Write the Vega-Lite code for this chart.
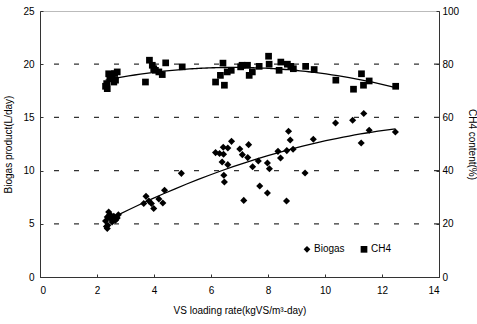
{
  "$schema": "https://vega.github.io/schema/vega-lite/v6.json",
  "autosize": "none",
  "width": 399,
  "height": 266,
  "padding": {"left": 40, "top": 11, "right": 38, "bottom": 47},
  "background": "white",
  "config": {
    "font": "Liberation Sans",
    "view": {"stroke": "#777", "strokeDash": [1, 1], "strokeWidth": 1},
    "axis": {
      "labelFont": "Liberation Sans",
      "titleFont": "Liberation Sans",
      "labelFontSize": 10,
      "titleFontSize": 10,
      "labelColor": "#000",
      "titleColor": "#000",
      "titleFontWeight": "normal",
      "domainColor": "#333",
      "tickColor": "#333",
      "tickSize": -3,
      "grid": false
    }
  },
  "datasets": {
    "gridlines": [
      {"level": 5}, {"level": 10}, {"level": 15}, {"level": 20}
    ],
    "biogas": [
      {"load": 2.30, "biogas": 5.26, "series": "Biogas"},
      {"load": 2.33, "biogas": 4.75, "series": "Biogas"},
      {"load": 2.36, "biogas": 4.55, "series": "Biogas"},
      {"load": 2.38, "biogas": 4.86, "series": "Biogas"},
      {"load": 2.36, "biogas": 5.64, "series": "Biogas"},
      {"load": 2.41, "biogas": 6.11, "series": "Biogas"},
      {"load": 2.45, "biogas": 5.90, "series": "Biogas"},
      {"load": 2.47, "biogas": 5.49, "series": "Biogas"},
      {"load": 2.53, "biogas": 5.17, "series": "Biogas"},
      {"load": 2.59, "biogas": 5.70, "series": "Biogas"},
      {"load": 2.65, "biogas": 5.33, "series": "Biogas"},
      {"load": 2.71, "biogas": 5.55, "series": "Biogas"},
      {"load": 2.75, "biogas": 5.85, "series": "Biogas"},
      {"load": 3.64, "biogas": 6.90, "series": "Biogas"},
      {"load": 3.72, "biogas": 7.58, "series": "Biogas"},
      {"load": 3.82, "biogas": 7.14, "series": "Biogas"},
      {"load": 3.91, "biogas": 6.90, "series": "Biogas"},
      {"load": 3.99, "biogas": 6.43, "series": "Biogas"},
      {"load": 4.17, "biogas": 7.33, "series": "Biogas"},
      {"load": 4.31, "biogas": 6.96, "series": "Biogas"},
      {"load": 4.37, "biogas": 8.15, "series": "Biogas"},
      {"load": 4.96, "biogas": 9.74, "series": "Biogas"},
      {"load": 6.16, "biogas": 11.69, "series": "Biogas"},
      {"load": 6.30, "biogas": 11.60, "series": "Biogas"},
      {"load": 6.39, "biogas": 10.81, "series": "Biogas"},
      {"load": 6.43, "biogas": 12.20, "series": "Biogas"},
      {"load": 6.44, "biogas": 11.53, "series": "Biogas"},
      {"load": 6.45, "biogas": 9.56, "series": "Biogas"},
      {"load": 6.47, "biogas": 8.93, "series": "Biogas"},
      {"load": 6.59, "biogas": 12.12, "series": "Biogas"},
      {"load": 6.59, "biogas": 10.56, "series": "Biogas"},
      {"load": 6.72, "biogas": 12.75, "series": "Biogas"},
      {"load": 7.01, "biogas": 12.03, "series": "Biogas"},
      {"load": 7.10, "biogas": 11.50, "series": "Biogas"},
      {"load": 7.15, "biogas": 7.20, "series": "Biogas"},
      {"load": 7.29, "biogas": 11.22, "series": "Biogas"},
      {"load": 7.32, "biogas": 12.44, "series": "Biogas"},
      {"load": 7.46, "biogas": 10.37, "series": "Biogas"},
      {"load": 7.66, "biogas": 10.90, "series": "Biogas"},
      {"load": 7.71, "biogas": 8.55, "series": "Biogas"},
      {"load": 7.98, "biogas": 10.71, "series": "Biogas"},
      {"load": 7.98, "biogas": 7.90, "series": "Biogas"},
      {"load": 8.05, "biogas": 10.18, "series": "Biogas"},
      {"load": 8.35, "biogas": 11.81, "series": "Biogas"},
      {"load": 8.44, "biogas": 11.18, "series": "Biogas"},
      {"load": 8.65, "biogas": 7.15, "series": "Biogas"},
      {"load": 8.66, "biogas": 11.88, "series": "Biogas"},
      {"load": 8.72, "biogas": 13.69, "series": "Biogas"},
      {"load": 8.78, "biogas": 12.88, "series": "Biogas"},
      {"load": 8.88, "biogas": 12.00, "series": "Biogas"},
      {"load": 9.30, "biogas": 9.77, "series": "Biogas"},
      {"load": 9.59, "biogas": 12.94, "series": "Biogas"},
      {"load": 10.37, "biogas": 14.47, "series": "Biogas"},
      {"load": 10.97, "biogas": 14.73, "series": "Biogas"},
      {"load": 11.27, "biogas": 12.60, "series": "Biogas"},
      {"load": 11.36, "biogas": 15.36, "series": "Biogas"},
      {"load": 11.55, "biogas": 13.79, "series": "Biogas"},
      {"load": 12.47, "biogas": 13.63, "series": "Biogas"}
    ],
    "ch4": [
      {"load": 2.30, "ch4": 71.7, "series": "CH4"},
      {"load": 2.36, "ch4": 70.8, "series": "CH4"},
      {"load": 2.34, "ch4": 72.7, "series": "CH4"},
      {"load": 2.41, "ch4": 76.4, "series": "CH4"},
      {"load": 2.45, "ch4": 74.5, "series": "CH4"},
      {"load": 2.53, "ch4": 74.6, "series": "CH4"},
      {"load": 2.59, "ch4": 73.3, "series": "CH4"},
      {"load": 2.65, "ch4": 74.0, "series": "CH4"},
      {"load": 2.71, "ch4": 77.1, "series": "CH4"},
      {"load": 2.62, "ch4": 76.5, "series": "CH4"},
      {"load": 2.50, "ch4": 75.5, "series": "CH4"},
      {"load": 3.70, "ch4": 73.3, "series": "CH4"},
      {"load": 3.84, "ch4": 81.5, "series": "CH4"},
      {"load": 3.94, "ch4": 79.6, "series": "CH4"},
      {"load": 3.99, "ch4": 78.3, "series": "CH4"},
      {"load": 4.05, "ch4": 77.7, "series": "CH4"},
      {"load": 4.17, "ch4": 77.1, "series": "CH4"},
      {"load": 4.29, "ch4": 76.1, "series": "CH4"},
      {"load": 4.41, "ch4": 80.5, "series": "CH4"},
      {"load": 4.99, "ch4": 79.0, "series": "CH4"},
      {"load": 6.16, "ch4": 73.3, "series": "CH4"},
      {"load": 6.33, "ch4": 75.8, "series": "CH4"},
      {"load": 6.42, "ch4": 80.4, "series": "CH4"},
      {"load": 6.47, "ch4": 72.1, "series": "CH4"},
      {"load": 6.57, "ch4": 77.1, "series": "CH4"},
      {"load": 6.71, "ch4": 77.7, "series": "CH4"},
      {"load": 7.04, "ch4": 79.0, "series": "CH4"},
      {"load": 7.09, "ch4": 79.6, "series": "CH4"},
      {"load": 7.28, "ch4": 79.6, "series": "CH4"},
      {"load": 7.34, "ch4": 75.8, "series": "CH4"},
      {"load": 7.45, "ch4": 77.1, "series": "CH4"},
      {"load": 7.69, "ch4": 79.2, "series": "CH4"},
      {"load": 8.02, "ch4": 83.0, "series": "CH4"},
      {"load": 8.04, "ch4": 80.0, "series": "CH4"},
      {"load": 8.39, "ch4": 77.7, "series": "CH4"},
      {"load": 8.45, "ch4": 80.8, "series": "CH4"},
      {"load": 8.68, "ch4": 80.0, "series": "CH4"},
      {"load": 8.80, "ch4": 79.2, "series": "CH4"},
      {"load": 8.89, "ch4": 78.3, "series": "CH4"},
      {"load": 9.32, "ch4": 79.2, "series": "CH4"},
      {"load": 9.62, "ch4": 78.0, "series": "CH4"},
      {"load": 10.38, "ch4": 74.0, "series": "CH4"},
      {"load": 11.00, "ch4": 70.6, "series": "CH4"},
      {"load": 11.28, "ch4": 76.4, "series": "CH4"},
      {"load": 11.35, "ch4": 72.1, "series": "CH4"},
      {"load": 11.55, "ch4": 73.7, "series": "CH4"},
      {"load": 12.48, "ch4": 71.7, "series": "CH4"}
    ]
  },
  "layer": [
    {
      "layer": [
        {
          "data": {"name": "gridlines"},
          "mark": {"type": "rule", "color": "#333", "strokeWidth": 1.2, "strokeDash": [5, 15], "opacity": 1},
          "encoding": {
            "y": {"field": "level", "type": "quantitative"}
          }
        },
        {
          "data": {"name": "biogas"},
          "transform": [
            {"regression": "biogas", "on": "load", "method": "poly", "order": 2}
          ],
          "mark": {"type": "line", "color": "#000", "strokeWidth": 1.3},
          "encoding": {
            "x": {"field": "load", "type": "quantitative"},
            "y": {"field": "biogas", "type": "quantitative"}
          }
        },
        {
          "data": {"name": "biogas"},
          "mark": {"type": "point", "filled": true, "color": "#000", "opacity": 1, "size": 50},
          "encoding": {
            "x": {
              "field": "load", "type": "quantitative",
              "scale": {"domain": [0, 14], "nice": false},
              "axis": {
                "title": "VS loading rate(kgVS/m³-day)",
                "values": [0, 2, 4, 6, 8, 10, 12, 14],
                "labelPadding": 11,
                "titlePadding": 10
              }
            },
            "y": {
              "field": "biogas", "type": "quantitative",
              "scale": {"domain": [0, 25], "nice": false},
              "axis": {
                "title": "Biogas product(L/day)",
                "values": [0, 5, 10, 15, 20, 25],
                "labelPadding": 9,
                "titlePadding": 9
              }
            },
            "shape": {
              "field": "series", "type": "nominal",
              "scale": {"domain": ["Biogas", "CH4"], "range": ["diamond", "square"]},
              "legend": {
                "orient": "none",
                "legendX": 262,
                "legendY": 233,
                "direction": "horizontal",
                "title": null,
                "padding": 0,
                "columnPadding": 12,
                "symbolFillColor": "#000",
                "symbolStrokeColor": "#000",
                "symbolSize": 45,
                "symbolOffset": 0,
                "labelFont": "Liberation Sans",
                "labelFontSize": 10,
                "labelOffset": 2
              }
            }
          }
        }
      ]
    },
    {
      "layer": [
        {
          "data": {"name": "ch4"},
          "transform": [
            {"regression": "ch4", "on": "load", "method": "poly", "order": 2}
          ],
          "mark": {"type": "line", "color": "#000", "strokeWidth": 1.3},
          "encoding": {
            "x": {"field": "load", "type": "quantitative"},
            "y": {"field": "ch4", "type": "quantitative"}
          }
        },
        {
          "data": {"name": "ch4"},
          "mark": {"type": "point", "filled": true, "color": "#000", "opacity": 1, "size": 45},
          "encoding": {
            "x": {"field": "load", "type": "quantitative"},
            "y": {
              "field": "ch4", "type": "quantitative",
              "scale": {"domain": [0, 100], "nice": false},
              "axis": {
                "orient": "right",
                "title": "CH4 content(%)",
                "values": [0, 20, 40, 60, 80, 100],
                "labelPadding": 6,
                "titlePadding": 8
              }
            },
            "shape": {"field": "series", "type": "nominal"}
          }
        }
      ]
    }
  ],
  "resolve": {"scale": {"y": "independent"}}
}
